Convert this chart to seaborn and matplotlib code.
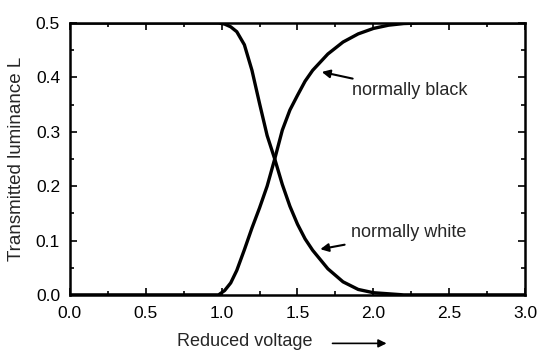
import seaborn as sns
import pandas as pd
import numpy as np
import matplotlib.pyplot as plt
from matplotlib.ticker import MultipleLocator

# values
voltage = [0.0, 0.5, 0.98, 1.02, 1.06, 1.1, 1.15, 1.2, 1.25, 1.3, 1.35, 1.4,
           1.45, 1.5, 1.55, 1.6, 1.7, 1.8, 1.9, 2.0, 2.1, 2.2, 2.3, 2.5, 3.0]
normally_black = [0.0, 0.0, 0.0, 0.008, 0.022, 0.045, 0.083, 0.123, 0.16, 0.2,
                  0.25, 0.303, 0.34, 0.367, 0.393, 0.413, 0.443, 0.465, 0.48,
                  0.49, 0.496, 0.499, 0.5, 0.5, 0.5]
normally_white = [0.5, 0.5, 0.5, 0.498, 0.493, 0.484, 0.46, 0.413, 0.352, 0.293,
                  0.25, 0.203, 0.163, 0.13, 0.103, 0.082, 0.048, 0.024, 0.01,
                  0.004, 0.002, 0.0, 0.0, 0.0, 0.0]

curves = pd.DataFrame({
    'voltage': voltage * 2,
    'L': normally_black + normally_white,
    'mode': ['normally black'] * len(voltage) + ['normally white'] * len(voltage),
})

sns.set_style('ticks')
plt.rcParams['font.family'] = ['Liberation Sans', 'DejaVu Sans']

fig = plt.figure(figsize=(5.37, 3.54), dpi=100)
ax = fig.add_axes([0.130, 0.167, 0.848, 0.768])

sns.lineplot(data=curves, x='voltage', y='L', units='mode', estimator=None,
             color='black', linewidth=2.4, legend=False, ax=ax)

ax.set_xlim(0, 3)
ax.set_ylim(0, 0.5)
ax.xaxis.set_major_locator(MultipleLocator(0.5))
ax.xaxis.set_minor_locator(MultipleLocator(0.25))
ax.yaxis.set_major_locator(MultipleLocator(0.1))
ax.yaxis.set_minor_locator(MultipleLocator(0.05))
ax.tick_params(which='both', direction='in', top=True, right=True,
               labelsize=12.5, width=1.2, colors='black')
ax.tick_params(axis='y', which='major', length=5, pad=7)
ax.tick_params(axis='x', which='major', length=5, pad=8)
ax.tick_params(which='minor', length=3)
for s in ax.spines.values():
    s.set_linewidth(1.8)
    s.set_color('black')

ax.set_ylabel('Transmitted luminance L', fontsize=13.5, labelpad=8)
ax.set_xlabel('')
fig.text(0.330, 0.035, 'Reduced voltage', fontsize=13, ha='left', va='center')
ax.annotate('', xy=(0.725, 0.03), xytext=(0.614, 0.03),
            xycoords='figure fraction', textcoords='figure fraction',
            arrowprops=dict(arrowstyle='-|>', color='black', lw=1.2,
                            mutation_scale=12))

ax.annotate('normally black', xy=(1.66, 0.41), xytext=(1.86, 0.375),
            fontsize=13, va='center',
            arrowprops=dict(arrowstyle='-|>', color='black', lw=1.5,
                            mutation_scale=12, shrinkA=2, shrinkB=0))
ax.annotate('normally white', xy=(1.65, 0.084), xytext=(1.85, 0.114),
            fontsize=13, va='center',
            arrowprops=dict(arrowstyle='-|>', color='black', lw=1.5,
                            mutation_scale=12, shrinkA=2, shrinkB=0))

plt.savefig('out.png', dpi=100)
